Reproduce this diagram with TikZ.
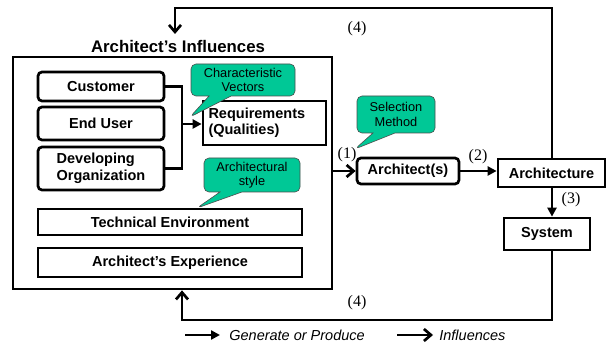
\documentclass[tikz,border=0pt]{standalone}
\usepackage{fontspec}
\setmainfont{Liberation Sans}
\newfontfamily\numfont{Liberation Serif}
\usetikzlibrary{arrows.meta,shapes.callouts}
\definecolor{notegreen}{RGB}{0,200,150}

\begin{document}
\begin{tikzpicture}[x=1pt,y=-1pt,line width=2.7pt,
		round box/.style={rectangle,rounded corners=4pt,draw,inner sep=2pt,font=\bfseries\fontsize{14.5}{16.5}\selectfont},
		square box/.style={rectangle,draw,inner sep=2pt,font=\bfseries\fontsize{14.5}{16.5}\selectfont},
		note/.style={rectangle callout,draw=black!70,line width=0.6pt,fill=notegreen,rounded corners=5pt,
			callout pointer width=22pt,inner sep=1pt,align=center,font=\fontsize{12.8}{14.5}\selectfont},
		num/.style={font=\numfont\fontsize{16}{18}\selectfont},
		gen/.style={-{Triangle[length=9pt,width=9pt]}},
		infl/.style={-{Straight Barb[length=7pt,width=12pt]}}]
		
		\useasboundingbox (0,0) rectangle (606,347);
		
		% architect's influences
		\node[draw,minimum width=319,minimum height=232] (infl) at (172.5,173) {};
		\node[font=\bfseries\fontsize{16.8}{18}\selectfont] (title) at (178,46) {Architect’s Influences};
		\node[round box,minimum width=126,minimum height=29] (cust) at (101,86.5) {Customer};
		\node[round box,minimum width=126,minimum height=33] (user) at (101,123.5) {End User};
		\node[round box,minimum width=126,minimum height=43,align=left] (org) at (101,168.5) {Developing\\Organization};
		\node[square box,minimum width=123,minimum height=44,align=left,text width=112] (req) at (264.5,123) {Requirements\\(Qualities)};
		\node[square box,minimum width=264,minimum height=26] (tech) at (170,222) {Technical Environment};
		\node[square box,minimum width=264,minimum height=29] (exp) at (170,262.5) {Architect’s Experience};
		
		% architect, architecture, system
		\node[round box,minimum width=102,minimum height=26] (arch) at (408,171) {Architect(s)};
		\node[square box,minimum width=107,minimum height=28] (ture) at (551.5,173) {Architecture};
		\node[square box,minimum width=86,minimum height=32] (sys) at (547,234) {System};
		
		\coordinate (join) at (182,124);
		\coordinate (toptip) at (175,34);
		\coordinate (top) at (552,8);
		\coordinate (bot) at (552,320);
		\coordinate (botx) at (182,320);
		
		\draw (cust.east) -| (join) |- (org.east);
		\draw[gen] (join) -- (req.west |- join);
		\draw[infl] (infl.east |- arch) -- (arch.west);
		\draw[gen] (arch.east) -- (ture.west |- arch);
		\draw[gen] (ture.south -| top) -- (sys.north -| top);
		\draw[infl] (ture.north -| top) -- (top) -| (toptip);
		\draw[infl] (sys.south -| bot) -- (bot) -- (botx) -- (infl.south -| botx);
		
		\node[num] (n1) at (347,155) {(1)};
		\node[num] (n2) at (478,157) {(2)};
		\node[num] (n3) at (571,200) {(3)};
		\node[num] (n4a) at (357,29) {(4)};
		\node[num] (n4b) at (357,303) {(4)};
		
		% notes
		\node[note,minimum width=104,minimum height=32,callout absolute pointer={(190,117)}] (cv) at (243,80) {Characteristic\\Vectors};
		\node[note,minimum width=78,minimum height=37,callout absolute pointer={(355,149)}] (sm) at (396,114.5) {Selection\\Method};
		\node[note,minimum width=96,minimum height=34,callout absolute pointer={(197,208)}] (as) at (252,175) {Architectural\\style};
		
		% legend
		\coordinate (g1) at (185,335);
		\coordinate (g2) at (220,335);
		\coordinate (i1) at (397,335);
		\coordinate (i2) at (433,335);
		\draw[gen] (g1) -- (g2);
		\node[anchor=west,font=\itshape\fontsize{14.5}{16}\selectfont,inner sep=0pt] (gtext) at (228,335) {Generate or Produce};
		\draw[infl] (i1) -- (i2);
		\node[anchor=west,font=\itshape\fontsize{14.5}{16}\selectfont,inner sep=0pt] (itext) at (438,335) {Influences};
\end{tikzpicture}
\end{document}
